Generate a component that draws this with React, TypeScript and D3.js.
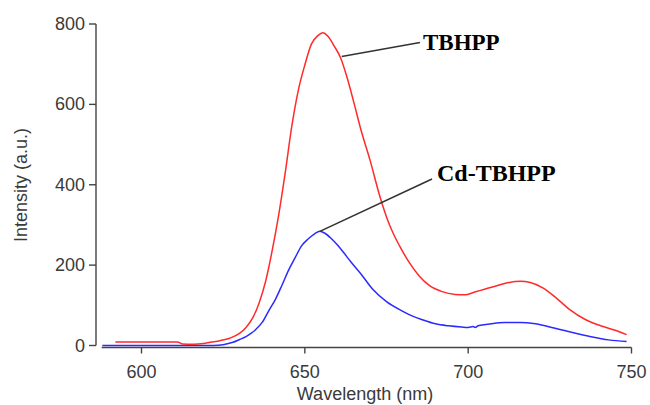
import React from "react";
import * as d3 from "d3";

// TBHPP (red) emission spectrum
const redWavelength = [592, 600, 605, 611, 612.5, 616, 619, 621, 624, 627, 630, 632, 634, 636, 638, 640, 642, 644, 646, 648, 650, 652, 654, 655.5, 657, 659, 661, 663, 665, 667, 670, 673, 675, 677, 679, 682, 685, 688, 692, 696, 699, 702, 705, 708, 712, 716, 719, 723, 727, 731, 736, 741, 745, 748.5];
const redIntensity = [9, 9, 9, 9, 4, 3, 5, 8, 12, 18, 30, 45, 68, 106, 160, 236, 325, 430, 545, 635, 698, 750, 771, 778, 770, 745, 715, 665, 605, 542, 460, 370, 320, 280, 248, 206, 173, 150, 134, 127, 126, 133, 140, 147, 156, 160, 157, 143, 118, 90, 64, 48, 38, 27];

// Cd-TBHPP (blue) emission spectrum
const blueWavelength = [588, 600, 610, 622, 625, 628, 630, 632, 633.5, 635, 637, 639, 641, 643, 645, 647, 649, 651, 653, 654.6, 656, 658, 660, 662, 664, 667, 671, 675, 680, 683, 686, 690, 694, 698, 700, 701.5, 702.2, 703, 707, 711, 716, 720, 725, 731, 737, 743, 748.5];
const blueIntensity = [0, 0, 0, 0, 2, 8, 15, 22, 30, 40, 58, 87, 115, 150, 187, 218, 248, 265, 278, 284, 280, 267, 250, 230, 209, 180, 138, 109, 85, 73, 64, 54, 49, 46, 45, 47, 45, 49, 54, 57, 57, 55, 46, 34, 23, 14, 10];

const xTicks = [600, 650, 700, 750];
const yTicks = [0, 200, 400, 600, 800];

const xLabel = "Wavelength (nm)";
const yLabel = "Intensity (a.u.)";

const annotationTexts = ["TBHPP", "Cd-TBHPP"];

export default function App() {
  const W = 650;
  const H = 405;
  const x = d3.scaleLinear().domain([600, 750]).range([141.5, 631.5]);
  const y = d3.scaleLinear().domain([0, 800]).range([345.5, 24]);

  const line = d3
    .line<[number, number]>()
    .x((d) => x(d[0]))
    .y((d) => y(d[1]))
    .curve(d3.curveMonotoneX);

  const redPts: [number, number][] = redWavelength.map((w, i) => [w, redIntensity[i]]);
  const bluePts: [number, number][] = blueWavelength.map((w, i) => [w, blueIntensity[i]]);

  const axisColor = "#444";
  const textColor = "#3a3a3a";
  const xAxisY = 347.5;
  const xAxisStart = x(587.8);
  const yAxisX = 96;

  const redAnchor = { x: 341.7, y: 56.5 };
  const blueAnchor = { x: x(654.6), y: y(284) };

  return (
    <svg
      width={W}
      height={H}
      style={{ position: "absolute", left: 0, top: 0, background: "#fff" }}
      fontFamily="'Liberation Sans', Arial, sans-serif"
    >
      <rect x={0} y={0} width={W} height={H} fill="#fff" />
      {/* Y axis */}
      <line x1={yAxisX} y1={y(800)} x2={yAxisX} y2={y(0)} stroke={axisColor} strokeWidth={1.4} />
      {yTicks.map((t) => (
        <g key={"y" + t}>
          <line x1={yAxisX - 7} x2={yAxisX} y1={y(t)} y2={y(t)} stroke={axisColor} strokeWidth={1.4} />
          <text x={yAxisX - 11} y={y(t) + 6} textAnchor="end" fontSize={18} fill={textColor}>
            {t}
          </text>
        </g>
      ))}
      {/* X axis */}
      <line x1={xAxisStart} y1={xAxisY} x2={x(750)} y2={xAxisY} stroke={axisColor} strokeWidth={1.4} />
      {xTicks.map((t) => (
        <g key={"x" + t}>
          <line x1={x(t)} x2={x(t)} y1={xAxisY} y2={xAxisY + 6} stroke={axisColor} strokeWidth={1.4} />
          <text x={x(t)} y={378} textAnchor="middle" fontSize={18} fill={textColor}>
            {t}
          </text>
        </g>
      ))}
      <text x={365} y={400} textAnchor="middle" fontSize={18} fill={textColor}>
        {xLabel}
      </text>
      <text transform={`translate(27,185) rotate(-90)`} textAnchor="middle" fontSize={18} fill={textColor}>
        {yLabel}
      </text>

      {/* Series */}
      <path d={line(bluePts) || ""} fill="none" stroke="#2b2bff" strokeWidth={1.5} />
      <path d={line(redPts) || ""} fill="none" stroke="#ff2a2a" strokeWidth={1.5} />

      {/* Annotations */}
      <line x1={redAnchor.x} y1={redAnchor.y} x2={420} y2={42.5} stroke="#333" strokeWidth={1.6} />
      <text x={423} y={50} fontFamily="'Liberation Serif', 'Times New Roman', serif" fontWeight="bold" fontSize={23} fill="#000">
        {annotationTexts[0]}
      </text>
      <line x1={blueAnchor.x} y1={blueAnchor.y} x2={432} y2={179} stroke="#333" strokeWidth={1.6} />
      <text x={437} y={181} fontFamily="'Liberation Serif', 'Times New Roman', serif" fontWeight="bold" fontSize={24} fill="#000">
        {annotationTexts[1]}
      </text>
    </svg>
  );
}
